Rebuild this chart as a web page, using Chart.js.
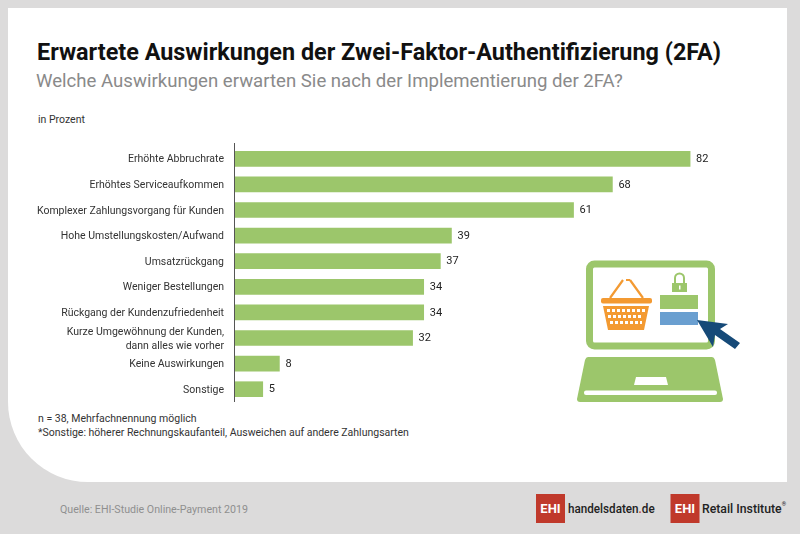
<!DOCTYPE html>
<html lang="de"><head><meta charset="utf-8">
<script src="https://cdn.jsdelivr.net/npm/chart.js@4"></script>
<style>
html,body{margin:0;padding:0;background:#dcdbdb;width:800px;height:534px;overflow:hidden}
#panel{position:absolute;left:8px;top:8px;width:779px;height:474px;background:#fff;border-bottom-left-radius:80px}
canvas{position:absolute;left:0;top:0}
.t{position:absolute;white-space:nowrap;font-family:Roboto,sans-serif}
svg{position:absolute;left:0;top:0}
</style></head><body>
<div id="panel"></div>
<div class="t" style="left:37px;top:38px;font-size:23.4px;font-weight:700;color:#111">Erwartete Auswirkungen der Zwei-Faktor-Authentifizierung (2FA)</div>
<div class="t" style="left:36px;top:70px;font-size:18.6px;color:#8a8a8a">Welche Auswirkungen erwarten Sie nach der Implementierung der 2FA?</div>
<div class="t" style="left:38px;top:113px;font-size:10.5px;color:#333">in Prozent</div>
<div class="t" style="left:38px;top:412px;font-size:10.5px;color:#333;line-height:14px">n = 38, Mehrfachnennung möglich<br>*Sonstige: höherer Rechnungskaufanteil, Ausweichen auf andere Zahlungsarten</div>
<div class="t" style="left:60px;top:503px;font-size:10.65px;color:#8f8f8f">Quelle: EHI-Studie Online-Payment 2019</div>
<svg width="800" height="534" viewBox="0 0 800 534">
  <rect x="589.5" y="264" width="122" height="82" rx="5" fill="#fff" stroke="#9cc66b" stroke-width="7"/>
  <path d="M588 357H712Q714 357 715 360L723 399Q723 402 720 402H580Q577 402 577 399L585 360Q586 357 588 357Z" fill="#9cc66b"/>
  <rect x="584" y="390.5" width="133" height="4.5" rx="2" fill="#fff"/>
  <path d="M636 377H666L668 385H634Z" fill="#fff"/>
  <rect x="660" y="295" width="38" height="14" fill="#9cc66b"/>
  <rect x="660" y="312" width="38" height="13" fill="#6a9fd0"/>
  <path d="M675 283V278a4.5 4.5 0 0 1 9 0V283" fill="none" stroke="#9cc66b" stroke-width="2"/>
  <rect x="672" y="283" width="15" height="9" fill="#9cc66b"/>
  <rect x="679" y="285.5" width="1.5" height="4" fill="#fff"/>
  <rect x="601" y="298" width="51" height="5.5" rx="2" fill="#f39a32"/>
  <path d="M610 298L623 280M626 280H630M630 280L643 298" fill="none" stroke="#f39a32" stroke-width="2.2"/>
  <path d="M603 306H649L644 330H608Z" fill="#f39a32"/>
  <g fill="#fff">
    <path d="M607 309h3v3h-3zM612 309h3v3h-3zM617 309h3v3h-3zM622 309h3v3h-3zM627 309h3v3h-3zM632 309h3v3h-3zM637 309h3v3h-3zM642 309h3v3h-3z"/>
    <path d="M608 315h3v3h-3zM613 315h3v3h-3zM618 315h3v3h-3zM623 315h3v3h-3zM628 315h3v3h-3zM633 315h3v3h-3zM638 315h3v3h-3z"/>
    <path d="M610 321h3v3h-3zM615 321h3v3h-3zM620 321h3v3h-3zM625 321h3v3h-3zM630 321h3v3h-3zM635 321h3v3h-3zM640 321h2v3h-2z"/>
  </g>
  <path d="M697 320L728 324L720 329L740 343L735 349L715 335L713 347Z" fill="#164a78"/>
  <rect x="536" y="494" width="29" height="29" fill="#c0392b"/>
  <rect x="670.5" y="494" width="29" height="29" fill="#c0392b"/>
</svg>
<div class="t" style="left:536px;top:501px;width:29px;text-align:center;font-size:13px;font-weight:700;color:#fff">EHI</div>
<div class="t" style="left:568px;top:501px;font-size:13.2px;font-weight:500;color:#222;transform-origin:left center;transform:scaleX(.885)">handelsdaten<span style="color:#c0392b">.</span>de</div>
<div class="t" style="left:670.5px;top:501px;width:29px;text-align:center;font-size:13px;font-weight:700;color:#fff">EHI</div>
<div class="t" style="left:702px;top:501px;font-size:13.2px;font-weight:500;color:#222;transform-origin:left center;transform:scaleX(.93)">Retail Institute<sup style="font-size:6px;position:relative;top:-2px">®</sup></div>
<canvas id="c" width="800" height="534" style="width:800px;height:534px"></canvas>
<script>
const categories = ["Erhöhte Abbruchrate","Erhöhtes Serviceaufkommen","Komplexer Zahlungsvorgang für Kunden","Hohe Umstellungskosten/Aufwand","Umsatzrückgang","Weniger Bestellungen","Rückgang der Kundenzufriedenheit",["Kurze Umgewöhnung der Kunden,","dann alles wie vorher"],"Keine Auswirkungen","Sonstige"];
const values = [82,68,61,39,37,34,34,32,8,5];
const barColor = "#9cc66b";
const valueLabels = {id:"valueLabels",afterDatasetsDraw(chart){
  const ctx=chart.ctx, meta=chart.getDatasetMeta(0), a=chart.chartArea;
  ctx.save();ctx.font="11px Roboto";ctx.fillStyle="#222";ctx.textBaseline="middle";ctx.textAlign="left";
  meta.data.forEach((b,i)=>ctx.fillText(String(values[i]),b.x+6,b.y+0.5));
  ctx.strokeStyle="#555";ctx.lineWidth=1;ctx.beginPath();ctx.moveTo(a.left-0.5,a.top-3);ctx.lineTo(a.left-0.5,a.bottom);ctx.stroke();
  ctx.restore();
}};
new Chart(document.getElementById("c"),{
  type:"bar",
  data:{labels:categories,datasets:[{data:values,backgroundColor:barColor,borderWidth:0,barThickness:15}]},
  options:{
    indexAxis:"y",responsive:false,animation:false,
    layout:{padding:{top:146,bottom:132,right:10,left:0}},
    plugins:{legend:{display:false},tooltip:{enabled:false},title:{display:false}},
    scales:{
      x:{display:false,min:0,max:100},
      y:{
        afterFit(s){s.width=235},
        grid:{display:false},
        border:{display:false},
        ticks:{color:"#333",padding:3,labelOffset:1,autoSkip:false,font:{family:"Roboto",size:10.5,lineHeight:1.33}}
      }
    }
  },
  plugins:[valueLabels]
});
</script>
</body></html>
